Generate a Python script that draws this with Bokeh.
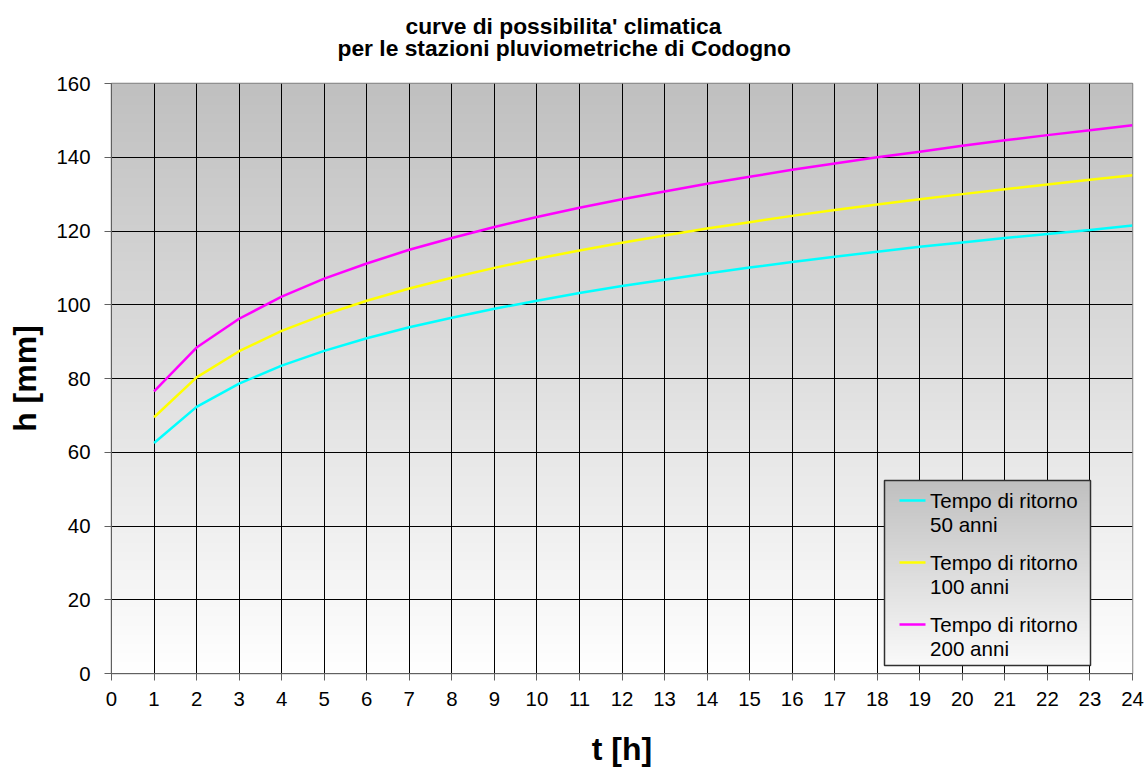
import numpy as np
from bokeh.plotting import figure
from bokeh.models import Range1d, SingleIntervalTicker, Legend, LegendItem, Title
from bokeh.embed import file_html
from bokeh.resources import INLINE

# ---------------- data ----------------
title_line1 = "curve di possibilita' climatica"
title_line2 = "per le stazioni pluviometriche di Codogno"
x_label = "t [h]"
y_label = "h [mm]"

t_hours = [1, 2, 3, 4, 5, 6, 7, 8, 9, 10, 11, 12,
           13, 14, 15, 16, 17, 18, 19, 20, 21, 22, 23, 24]
h_50 = [62.5, 72.3, 78.6, 83.5, 87.5, 90.9, 93.9, 96.5, 98.9, 101.1, 103.2, 105.1,
        106.8, 108.5, 110.1, 111.6, 113.0, 114.4, 115.7, 116.9, 118.1, 119.2, 120.3, 121.5]
h_100 = [69.5, 80.3, 87.4, 92.9, 97.3, 101.1, 104.4, 107.3, 110.0, 112.5, 114.7, 116.8,
         118.8, 120.7, 122.4, 124.1, 125.7, 127.2, 128.6, 130.0, 131.3, 132.6, 133.9, 135.1]
h_200 = [76.5, 88.4, 96.2, 102.2, 107.1, 111.2, 114.9, 118.1, 121.1, 123.8, 126.3, 128.6,
         130.7, 132.8, 134.7, 136.6, 138.3, 140.0, 141.5, 143.1, 144.6, 146.0, 147.3, 148.7]
series_labels = ["Tempo di ritorno\n50 anni", "Tempo di ritorno\n100 anni", "Tempo di ritorno\n200 anni"]
series_colors = ["#00FFFF", "#FFFF00", "#FF00FF"]

X_MAX, Y_MAX = 24, 160
FW, FH = 1021, 590
FONT = "Liberation Sans"
sx, sy = X_MAX / FW, Y_MAX / FH   # data units per screen pixel


def gradient(top, bottom, n=256):
    levels = np.linspace(bottom, top, n)  # row 0 = bottom
    img = np.zeros((n, 1), dtype=np.uint32)
    v = img.view(dtype=np.uint8).reshape((n, 1, 4))
    v[:, 0, 0] = levels
    v[:, 0, 1] = levels
    v[:, 0, 2] = levels
    v[:, 0, 3] = 255
    return img


p = figure(frame_width=FW, frame_height=FH,
           x_range=Range1d(0, X_MAX), y_range=Range1d(0, Y_MAX),
           output_backend="svg", toolbar_location=None,
           min_border_left=111, min_border_top=83, min_border_right=15, min_border_bottom=80,
           background_fill_color="white", border_fill_color="white")

# ---- two-line title (p.title is outermost; titles added 'above' stack from the frame outward)
TITLE_STYLE = dict(text_font=FONT, text_font_size="22.8px", text_font_style="bold", text_color="black")
p.title.text = title_line1
p.title.align = "left"
p.title.offset = 294
p.title.text_font = FONT
p.title.text_font_size = "22.8px"
p.title.text_font_style = "bold"
p.title.text_color = "black"
try:
    p.title.standoff = -12      # pull the first line closer to the second one
except Exception:
    p.title.standoff = 0
try:
    spacer = Title(text=" ", align="left", standoff=-0.6, text_font=FONT, text_font_size="20px")
except Exception:
    spacer = Title(text=" ", align="left", standoff=0, text_font=FONT, text_font_size="19px")
line2 = Title(text=title_line2, align="left", offset=226, standoff=0, **TITLE_STYLE)
p.add_layout(spacer, "above")
p.add_layout(line2, "above")

# plot area gradient
p.image_rgba(image=[gradient(192, 255)], x=0, y=0, dw=X_MAX, dh=Y_MAX, level="image")

# axes
p.xaxis.ticker = SingleIntervalTicker(interval=1, num_minor_ticks=0)
p.yaxis.ticker = SingleIntervalTicker(interval=20, num_minor_ticks=0)
for ax in (p.xaxis[0], p.yaxis[0]):
    ax.major_label_text_font = FONT
    ax.major_label_text_font_size = "20.4px"
    ax.major_label_text_color = "black"
    ax.axis_label_text_font = FONT
    ax.axis_label_text_font_size = "32px"
    ax.axis_label_text_font_style = "bold"
    ax.axis_label_text_color = "black"
    ax.axis_line_color = "#606060"
    ax.major_tick_line_color = "#606060"
    ax.major_tick_in = 0
    ax.major_tick_out = 7
    ax.minor_tick_line_color = None
p.xaxis.axis_label = x_label
p.yaxis.axis_label = y_label
p.xaxis.major_label_standoff = 11
p.xaxis.axis_label_standoff = 22
p.yaxis.major_label_standoff = 14
p.yaxis.axis_label_standoff = 10

p.xgrid.grid_line_color = "black"
p.ygrid.grid_line_color = "black"
p.xgrid.grid_line_alpha = 1
p.ygrid.grid_line_alpha = 1
p.outline_line_color = "#808080"
p.outline_line_width = 1.5

# legend box (gradient backdrop + border), given in screen px relative to the frame
LEG_LEFT, LEG_BOTTOM, LEG_W, LEG_H = 773, 8, 206, 185
SW_PAD, SW_W, SW_GAP = 15, 26, 5     # swatch inset, swatch length, gap to text
ROW_PITCH, FIRST_ROW = 62, 20        # row pitch, first text line below the box top
p.image_rgba(image=[gradient(192, 250)],
             x=LEG_LEFT * sx, y=LEG_BOTTOM * sy, dw=LEG_W * sx, dh=LEG_H * sy)
p.quad(left=[LEG_LEFT * sx], right=[(LEG_LEFT + LEG_W) * sx],
       bottom=[LEG_BOTTOM * sy], top=[(LEG_BOTTOM + LEG_H) * sy],
       fill_color=None, line_color="#303030", line_width=1.5)

# series
renderers = []
for h, c in zip([h_50, h_100, h_200], series_colors):
    renderers.append(p.line(t_hours, h, line_color=c, line_width=2.5))

# legend swatches aligned with the first text line of each entry
for i, c in enumerate(series_colors):
    ys = (LEG_BOTTOM + LEG_H - FIRST_ROW - i * ROW_PITCH) * sy
    p.segment(x0=[(LEG_LEFT + SW_PAD) * sx], x1=[(LEG_LEFT + SW_PAD + SW_W) * sx],
              y0=[ys], y1=[ys], line_color=c, line_width=2.5)

legend = Legend(items=[LegendItem(label=lab, renderers=[r]) for lab, r in zip(series_labels, renderers)],
                location=(LEG_LEFT + SW_PAD + SW_W + SW_GAP, LEG_BOTTOM + 4), margin=0, padding=0,
                spacing=14, glyph_width=0, glyph_height=20, label_standoff=0,
                label_text_font=FONT, label_text_font_size="20.6px", label_text_color="black",
                background_fill_alpha=0, border_line_color=None)
p.add_layout(legend)

open("out.html", "w").write(file_html(p, INLINE))
